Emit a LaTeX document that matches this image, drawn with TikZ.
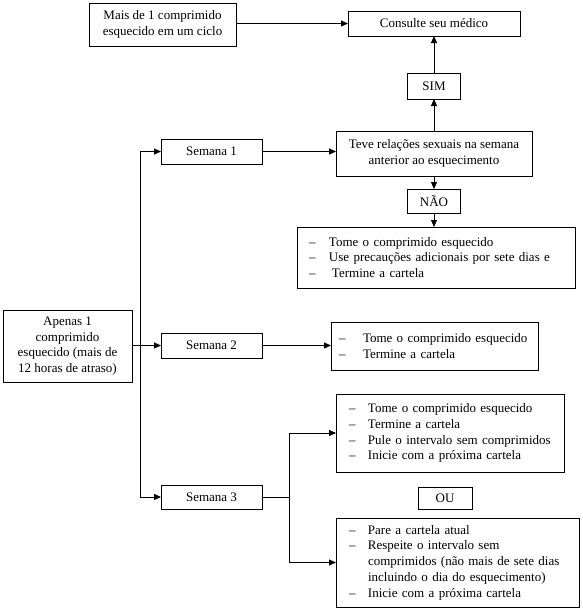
\documentclass[tikz,border=0pt]{standalone}
\usepackage{fontspec}
\setmainfont{Liberation Serif}
\usetikzlibrary{arrows.meta}
\newcommand{\dsh}[1][5pt]{\makebox[24pt][l]{\hspace*{#1}–}}
\newcommand{\cnt}{\hspace*{24pt}}
\begin{document}
\begin{tikzpicture}[x=1pt,y=-1pt,
  every node/.style={font=\fontsize{13}{15.8}\selectfont, outer sep=0pt},
  box/.style={draw, line width=0.9pt, inner sep=0pt, align=center},
  listbox/.style={draw, line width=0.9pt, inner xsep=8pt, inner ysep=0pt, align=left},
  arr/.style={line width=0.9pt, -{Triangle[length=7pt,width=6pt]}},
  ln/.style={line width=0.9pt}]
\useasboundingbox (0,0) rectangle (582,614);

\node[box, minimum width=147pt, minimum height=43pt] (mais) at (162.5,24.5)
  {Mais de 1 comprimido\\esquecido em um ciclo};
\node[box, minimum width=172pt, minimum height=25pt] (cons) at (434,23.5)
  {Consulte seu médico};
\node[box, minimum width=53pt, minimum height=26pt] (sim) at (434,86) {SIM};
\node[box, minimum width=196pt, minimum height=45pt] (teve) at (434,153.5)
  {Teve relações sexuais na semana\\anterior ao esquecimento};
\node[box, minimum width=101pt, minimum height=25pt] (sem1) at (211.5,151.5) {Semana 1};
\node[box, minimum width=53pt, minimum height=24pt] (nao) at (434,201) {NÃO};
\node[listbox, minimum width=278pt, text width=262pt, minimum height=61pt] (list1) at (436,257.5)
  {\dsh[4pt]Tome o comprimido esquecido\\
   \dsh[4pt]Use precauções adicionais por sete dias e\\
   \dsh[4pt]\hspace*{3pt}Termine a cartela};
\node[box, minimum width=129pt, minimum height=72pt] (apenas) at (67.5,346)
  {Apenas 1\\comprimido\\esquecido (mais de\\12 horas de atraso)};
\node[box, minimum width=101pt, minimum height=25pt] (sem2) at (211.5,345.5) {Semana 2};
\node[listbox, minimum width=207pt, text width=191pt, minimum height=48pt] (list2) at (434.5,346)
  {\dsh[0pt]Tome o comprimido esquecido\\
   \dsh[0pt]Termine a cartela};
\node[listbox, minimum width=228pt, text width=212pt, minimum height=78pt] (list3) at (450,433)
  {\dsh Tome o comprimido esquecido\\
   \dsh Termine a cartela\\
   \dsh Pule o intervalo sem comprimidos\\
   \dsh Inicie com a próxima cartela};
\node[box, minimum width=101pt, minimum height=24pt] (sem3) at (211.5,497) {Semana 3};
\node[box, minimum width=54pt, minimum height=22pt] (ou) at (445,498) {OU};
\node[listbox, minimum width=243pt, text width=227pt, minimum height=89pt] (list4) at (457.5,562.5)
  {\dsh Pare a cartela atual\\
   \dsh Respeite o intervalo sem\\
   \cnt comprimidos (não mais de sete dias\\
   \cnt incluindo o dia do esquecimento)\\
   \dsh Inicie com a próxima cartela};

% connectors
\draw[arr] (cons.west -| mais.east) -- (cons.west);
\draw[arr] (teve) -- (sim);
\draw[arr] (sim) -- (cons);
\draw[arr] (teve) -- (nao);
\draw[arr] (nao.south) -- (nao.south |- list1.north);
\draw[arr] (sem1.east) -- (sem1.east -| teve.west);

\path (sem1.west) ++(-21,0) coordinate (jtop);
\path (sem3.west) ++(-21,0) coordinate (jbot);
\draw[ln] (jtop) -- (jbot);
\draw[arr] (jtop) -- (sem1.west);
\draw[arr] (jbot) -- (sem3.west);
\draw[arr] (apenas.east |- sem2.west) -- (sem2.west);
\draw[arr] (sem2.east) -- (sem2.east -| list2.west);

\path (sem3.east) ++(27,0) coordinate (br);
\draw[ln] (sem3.east) -- (br);
\draw[arr] (br) |- (list3.west);
\draw[arr] (br) |- (list4.west);
\end{tikzpicture}
\end{document}
